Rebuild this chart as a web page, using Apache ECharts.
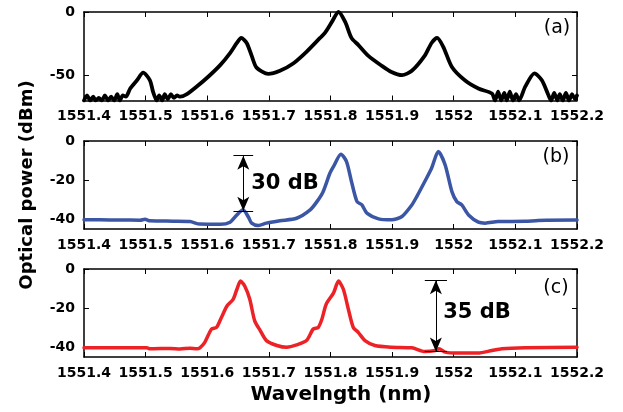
<!DOCTYPE html>
<html><head><meta charset="utf-8">
<script src="https://cdn.jsdelivr.net/npm/echarts@6.0.0/dist/echarts.min.js"></script>
<style>html,body{margin:0;padding:0;background:#fff}#c{width:623px;height:412px}</style>
</head><body><div id="c"></div>
<script>
// ---- data ----
const xTicks = [1551.4, 1551.5, 1551.6, 1551.7, 1551.8, 1551.9, 1552.0, 1552.1, 1552.2];
const yTicksA = [-50, 0];
const yTicksBC = [-40, -20, 0];

const wlA = [
 1551.400,1551.405,1551.410,1551.415,1551.419,1551.424,1551.429,1551.434,1551.439,1551.444,1551.449,1551.454,1551.458,1551.463,1551.468,
 1551.475,1551.486,1551.496,1551.507,1551.512,1551.518,
 1551.522,1551.527,1551.531,1551.536,1551.541,1551.546,1551.551,1551.556,
 1551.567,1551.583,1551.602,1551.621,1551.637,1551.648,1551.655,1551.664,1551.672,1551.680,1551.699,1551.718,1551.740,
 1551.761,1551.783,1551.791,1551.799,1551.802,1551.813,1551.824,1551.834,1551.845,1551.861,1551.883,1551.899,1551.916,1551.932,
 1551.953,1551.964,1551.973,1551.983,1551.997,1552.018,1552.040,1552.062,
 1552.067,1552.072,1552.077,1552.082,1552.086,1552.091,1552.096,1552.101,1552.106,
 1552.116,1552.131,1552.143,1552.153,
 1552.158,1552.163,1552.168,1552.172,1552.177,1552.182,1552.187,1552.192,1552.197,1552.200
];
const powA = [
 -70,-66,-70,-67,-70,-68,-70,-66,-70,-67,-70,-65,-70,-66,-67,
 -60.5,-54,-48,-54,-63,-70,
 -66,-70,-65,-69,-65,-68,-66,-67,
 -65,-59,-51,-42,-32.5,-24.5,-20.5,-24.5,-34.5,-44,-49,-46.5,-40.5,
 -31.5,-20.5,-16.5,-10.5,-8,0,-8,-20.5,-26,-34.5,-42.5,-47.5,-50,-46.5,
 -34.5,-24.5,-20.5,-27.5,-43.5,-54,-60.5,-64.5,
 -70,-63,-70,-64,-70,-63,-70,-65,-70,
 -59,-48.5,-54,-65,
 -70,-64,-70,-65,-70,-64,-70,-65,-69,-66
];

const wlB = [1551.400,1551.426,1551.458,1551.491,1551.499,1551.507,1551.545,1551.572,1551.588,1551.621,1551.637,1551.648,1551.658,1551.667,1551.672,1551.683,1551.696,1551.718,1551.745,1551.767,1551.778,1551.788,1551.799,1551.805,1551.817,1551.826,1551.834,1551.843,1551.851,1551.859,1551.878,1551.899,1551.916,1551.932,1551.940,1551.953,1551.964,1551.975,1551.986,1551.997,1552.005,1552.013,1552.024,1552.040,1552.051,1552.072,1552.116,1552.137,1552.197,1552.200];
const powB = [-40.3,-40.3,-40.4,-40.5,-40.0,-40.8,-41,-41.2,-42.5,-42.6,-41.5,-37.8,-35.2,-39,-42,-43.2,-42,-40.8,-39.5,-35.2,-31,-25.9,-16.5,-13,-6.8,-10.5,-20.7,-31,-32.7,-36.9,-39.8,-40.3,-38.6,-32.7,-28.4,-20.7,-13.9,-5.4,-12.2,-25.9,-31,-32.7,-37.8,-41.5,-42,-41.2,-41.1,-40.6,-40.4,-40.4];

const wlC = [1551.400,1551.502,1551.507,1551.540,1551.556,1551.572,1551.583,1551.588,1551.596,1551.607,1551.615,1551.623,1551.632,1551.642,1551.648,1551.654,1551.661,1551.669,1551.677,1551.686,1551.696,1551.713,1551.729,1551.745,1551.761,1551.772,1551.780,1551.786,1551.793,1551.805,1551.813,1551.821,1551.829,1551.837,1551.845,1551.856,1551.872,1551.899,1551.932,1551.953,1551.970,1551.976,1551.986,1552.007,1552.039,1552.062,1552.078,1552.116,1552.200];
const powC = [-40.3,-40.3,-40.8,-40.6,-40.9,-40.5,-40.8,-40.3,-37.5,-30.7,-29.9,-24.8,-18.9,-15.5,-10.5,-6.2,-8.8,-15.5,-26.5,-31.5,-36.6,-39.1,-40,-38.8,-36.6,-30.7,-29.9,-25.7,-18,-12.2,-6.2,-10.5,-20.6,-29.9,-32.4,-36.6,-39.1,-40,-40.3,-42.2,-41.7,-40.8,-42.5,-43,-43,-41.7,-40.8,-40.3,-40];

// annotation arrows (wavelength, top dB, bottom dB)
const arrowB = {wl: 1551.6585, top: -7.5, bottom: -35.7, half: 0.016};
const arrowC = {wl: 1551.971, top: -5.7, bottom: -42.2, half: 0.018};

// ---- chart ----
const chart = echarts.init(document.getElementById('c'), null, {renderer: 'canvas'});
const zip = (a, b) => a.map((v, i) => [v, b[i]]);
const fmtX = v => String(Math.round(v * 10) / 10);
const LBL = {fontFamily: 'DejaVu Sans', fontWeight: 'bold', fontSize: 14, color: '#000'};
const lineS = {show: true, onZero: false, lineStyle: {color: '#000', width: 1.5}};
const tickS = (vals) => ({show: true, inside: true, length: 5, customValues: vals, lineStyle: {color: '#000', width: 1}});

const grids = [
  {left: 84, top: 12, width: 493, height: 88.5},
  {left: 84, top: 141, width: 493, height: 88},
  {left: 84, top: 269, width: 493, height: 88}
];
const yMins = [-70, -45, -45];
const yTicks = [yTicksA, yTicksBC, yTicksBC];
const xAxes = [], yAxes = [];
for (let g = 0; g < 3; g++) {
  xAxes.push({type: 'value', gridIndex: g, min: 1551.4, max: 1552.2, position: 'bottom',
    axisLine: lineS, axisTick: tickS(xTicks), splitLine: {show: false},
    axisLabel: Object.assign({customValues: xTicks, formatter: fmtX, margin: 9}, LBL)});
  xAxes.push({type: 'value', gridIndex: g, min: 1551.4, max: 1552.2, position: 'top',
    axisLine: lineS, axisTick: tickS(xTicks), splitLine: {show: false}, axisLabel: {show: false}});
  yAxes.push({type: 'value', gridIndex: g, min: yMins[g], max: 0, position: 'left',
    axisLine: lineS, axisTick: tickS(yTicks[g]), splitLine: {show: false},
    axisLabel: Object.assign({customValues: yTicks[g], margin: 9}, LBL)});
  yAxes.push({type: 'value', gridIndex: g, min: yMins[g], max: 0, position: 'right',
    axisLine: lineS, axisTick: tickS(yTicks[g]), splitLine: {show: false}, axisLabel: {show: false}});
}

function arrowMark(a) {
  return {
    silent: true, animation: false,
    label: {show: false},
    lineStyle: {color: '#000', width: 1, type: 'solid'},
    emphasis: {disabled: true},
    data: [
      [{coord: [a.wl, a.top], symbol: 'arrow', symbolSize: [9, 14]},
       {coord: [a.wl, a.bottom], symbol: 'arrow', symbolSize: [9, 14]}],
      [{coord: [a.wl - a.half, a.top], symbol: 'none'}, {coord: [a.wl + a.half, a.top], symbol: 'none'}],
      [{coord: [a.wl - a.half, a.bottom], symbol: 'none'}, {coord: [a.wl + a.half, a.bottom], symbol: 'none'}]
    ]
  };
}

const mkSeries = (g, data, color, w, mark) => ({
  type: 'line', xAxisIndex: g * 2, yAxisIndex: g * 2, data: data,
  showSymbol: false, symbol: 'none', smooth: 0.25, animation: false, silent: true,
  lineStyle: {color: color, width: w, join: 'round', cap: 'round'},
  markLine: mark
});

const T = (x, y, text, font, extra) => Object.assign({type: 'text', x: x, y: y, silent: true,
  style: {text: text, font: font, fill: '#000', align: 'center', verticalAlign: 'middle'}}, extra || {});

chart.setOption({
  backgroundColor: '#fff',
  animation: false,
  grid: grids,
  xAxis: xAxes,
  yAxis: yAxes,
  series: [
    mkSeries(0, zip(wlA, powA), '#000000', 3.8),
    mkSeries(1, zip(wlB, powB), '#3b56a5', 3.5, arrowMark(arrowB)),
    mkSeries(2, zip(wlC, powC), '#ec2227', 3.5, arrowMark(arrowC))
  ],
  graphic: [
    T(557, 28, '(a)', '19px "DejaVu Sans"'),
    T(556, 157, '(b)', '19px "DejaVu Sans"'),
    T(556, 288, '(c)', '19px "DejaVu Sans"'),
    T(285, 184, '30 dB', 'bold 21px "DejaVu Sans"'),
    T(477, 313, '35 dB', 'bold 21px "DejaVu Sans"'),
    T(341, 395, 'Wavelngth (nm)', 'bold 20px "DejaVu Sans"'),
    T(27, 185, 'Optical power (dBm)', 'bold 18px "DejaVu Sans"', {rotation: Math.PI / 2})
  ]
});
</script>
</body></html>
